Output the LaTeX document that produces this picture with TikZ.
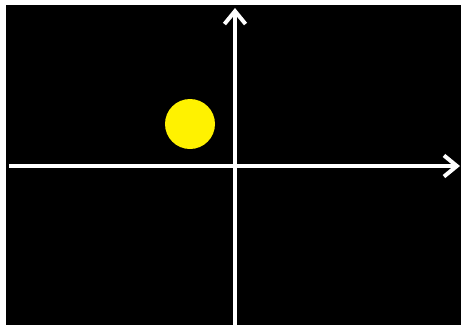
\documentclass[tikz,border=0pt]{standalone}
\usetikzlibrary{arrows.meta}

\begin{document}
\begin{tikzpicture}[
  x=0.03cm, y=-0.03cm,
  axis/.style={draw=white, line width=3.4pt, -{Straight Barb[length=11pt, width=18pt, line width=3.4pt]}},
  ball/.style={circle, fill=yellow, inner sep=0pt, minimum size=1.5cm}
]
\useasboundingbox (0,0) rectangle (462,327);
\fill[black] (6,5) rectangle (461,325);

\coordinate (xl) at (9,166);
\coordinate (xr) at (460,166);
\coordinate (yb) at (235,325);
\coordinate (yt) at (235,8);

\draw[axis] (xl) -- (xr);
\draw[axis] (yb) -- (yt);

\node[ball] (sun) at (190,124) {};

\end{tikzpicture}
\end{document}
